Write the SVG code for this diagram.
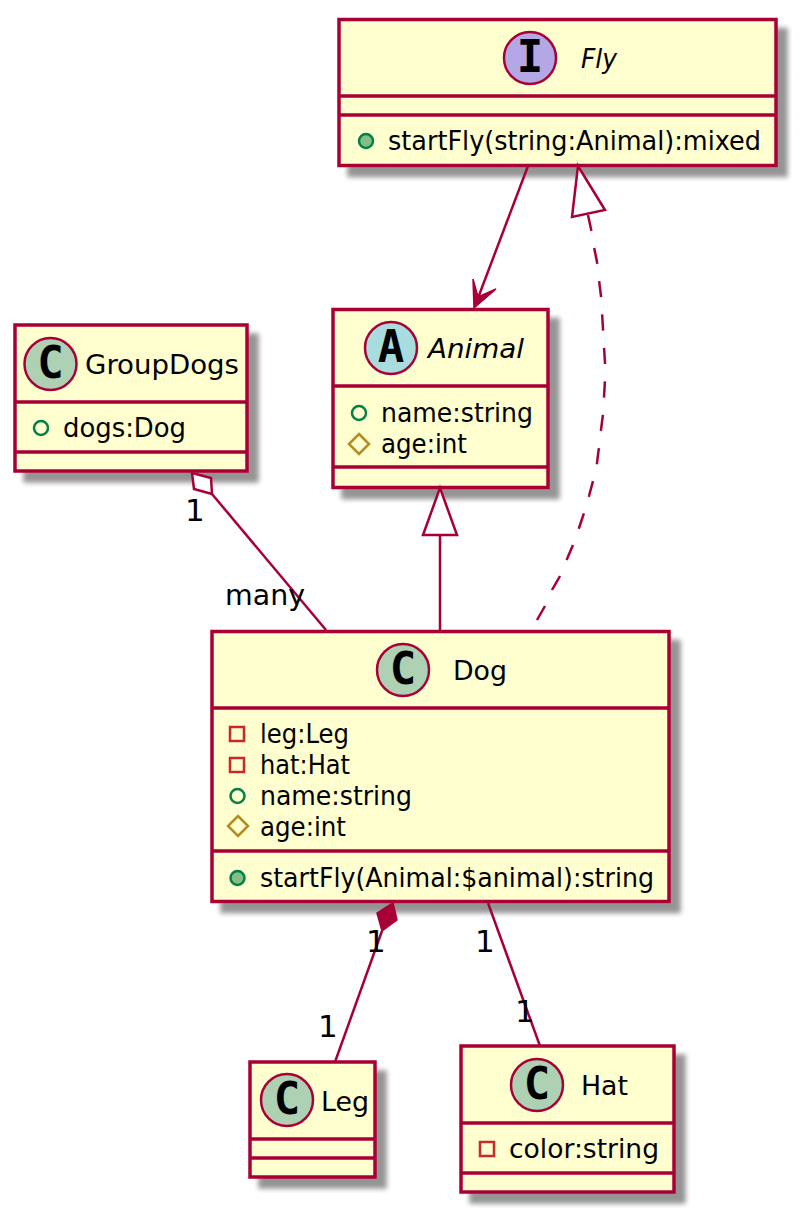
<svg xmlns="http://www.w3.org/2000/svg" width="800" height="1216" viewBox="0 0 800 1216">
<style>
.box{fill:#FEFECE;stroke:#A80036;stroke-width:3.5;filter:url(#sh)}
.div{stroke:#A80036;stroke-width:3.5;fill:none}
.line{stroke:#A80036;stroke-width:2.5;fill:none}
.spot{stroke:#A80036;stroke-width:2.5}
text{font-family:"DejaVu Sans",Verdana,sans-serif;fill:#000}
.t{font-size:27px}
.m{font-size:26px}
.l{font-size:29px}
.n{font-size:31px}
.g{font-size:44px;font-weight:bold;text-anchor:middle;font-family:"DejaVu Sans Mono","DejaVu Sans",monospace}
.pub{fill:none;stroke:#038048;stroke-width:2.5}
.pubf{fill:#84BE84;stroke:#038048;stroke-width:2.5}
.pri{fill:none;stroke:#C82930;stroke-width:2.5}
.pro{fill:none;stroke:#B38D22;stroke-width:2.5}
</style>
<defs>
<filter id="sh" x="-10%" y="-10%" width="125%" height="125%">
<feGaussianBlur in="SourceAlpha" stdDeviation="2.500"/>
<feOffset dx="10" dy="10"/>
<feComponentTransfer><feFuncA type="linear" slope="0.42"/></feComponentTransfer>
<feMerge><feMergeNode/><feMergeNode in="SourceGraphic"/></feMerge>
</filter>
</defs>
<g id="node-fly">
<rect class="box" x="339" y="19.500" width="437" height="146"/>
<path class="div" d="M339 96H776M339 115H776"/>
<circle class="spot" cx="530" cy="58" r="26" fill="#B4A7E5"/>
<text class="g" x="530" y="72">I</text>
<text class="t" x="581" y="68" font-style="italic" textLength="36" lengthAdjust="spacingAndGlyphs">Fly</text>
<circle class="pubf" cx="366" cy="141" r="7"/>
<text class="m" x="388" y="150" textLength="373" lengthAdjust="spacingAndGlyphs">startFly(string:Animal):mixed</text>
</g>
<g id="node-animal">
<rect class="box" x="333" y="309.500" width="215" height="178"/>
<path class="div" d="M333 386H548M333 467H548"/>
<circle class="spot" cx="391" cy="348" r="26" fill="#A9DCDF"/>
<text class="g" x="391" y="362">A</text>
<text class="t" x="428" y="358" font-style="italic" textLength="96" lengthAdjust="spacingAndGlyphs">Animal</text>
<circle class="pub" cx="359" cy="413" r="7"/>
<text class="m" x="381" y="422" textLength="152" lengthAdjust="spacingAndGlyphs">name:string</text>
<path class="pro" d="M359 434L369 444L359 454L349 444Z"/>
<text class="m" x="381" y="453" textLength="86" lengthAdjust="spacingAndGlyphs">age:int</text>
</g>
<g id="node-groupdogs">
<rect class="box" x="15" y="325" width="232" height="146"/>
<path class="div" d="M15 402H247M15 452H247"/>
<circle class="spot" cx="50.500" cy="364" r="26" fill="#ADD1B2"/>
<text class="g" x="50.500" y="378">C</text>
<text class="t" x="85" y="374" textLength="154" lengthAdjust="spacingAndGlyphs">GroupDogs</text>
<circle class="pub" cx="41" cy="428" r="7"/>
<text class="m" x="63" y="437" textLength="123" lengthAdjust="spacingAndGlyphs">dogs:Dog</text>
</g>
<g id="node-dog">
<rect class="box" x="212" y="631.500" width="457" height="270"/>
<path class="div" d="M212 708H669M212 851H669"/>
<circle class="spot" cx="403" cy="670" r="26" fill="#ADD1B2"/>
<text class="g" x="403" y="684">C</text>
<text class="t" x="453" y="680" textLength="54" lengthAdjust="spacingAndGlyphs">Dog</text>
<rect class="pri" x="230" y="727" width="14" height="14"/>
<text class="m" x="260" y="743" textLength="89" lengthAdjust="spacingAndGlyphs">leg:Leg</text>
<rect class="pri" x="230" y="758" width="14" height="14"/>
<text class="m" x="260" y="774" textLength="90" lengthAdjust="spacingAndGlyphs">hat:Hat</text>
<circle class="pub" cx="237.500" cy="796" r="7"/>
<text class="m" x="260" y="805" textLength="152" lengthAdjust="spacingAndGlyphs">name:string</text>
<path class="pro" d="M238 816L248 826L238 836L228 826Z"/>
<text class="m" x="260" y="836" textLength="86" lengthAdjust="spacingAndGlyphs">age:int</text>
<circle class="pubf" cx="237.500" cy="878" r="7"/>
<text class="m" x="260" y="887" textLength="394" lengthAdjust="spacingAndGlyphs">startFly(Animal:$animal):string</text>
</g>
<g id="node-leg">
<rect class="box" x="250" y="1062" width="125" height="115"/>
<path class="div" d="M250 1139H375M250 1158H375"/>
<circle class="spot" cx="287" cy="1100" r="26" fill="#ADD1B2"/>
<text class="g" x="287" y="1114">C</text>
<text class="t" x="321" y="1111" textLength="48" lengthAdjust="spacingAndGlyphs">Leg</text>
</g>
<g id="node-hat">
<rect class="box" x="461" y="1046" width="213" height="146"/>
<path class="div" d="M461 1123H674M461 1173H674"/>
<circle class="spot" cx="537" cy="1085" r="26" fill="#ADD1B2"/>
<text class="g" x="537" y="1099">C</text>
<text class="t" x="581" y="1095" textLength="47" lengthAdjust="spacingAndGlyphs">Hat</text>
<rect class="pri" x="480" y="1142" width="14" height="14"/>
<text class="m" x="509" y="1158" textLength="150" lengthAdjust="spacingAndGlyphs">color:string</text>
</g>
<g id="connectors">
<path class="line" d="M528 166L478 298"/>
<path d="M474 308L473 279L478 297L496 289Z" fill="#A80036" stroke="#A80036" stroke-width="1.500"/>
<path class="line" pathLength="412" stroke-dasharray="16,17" d="M588 215L591 229L594 247L597 262L599 280L601 296L603 329L604 347L605 363L605 380L604 397L603 414L601 430L599 447L597 463L593 481L589 496L584 513L579 528L573 545L567 559L560 576L552 590L545 606L537 620"/>
<path d="M578 166L572 217L605 210Z" fill="#fff" stroke="#A80036" stroke-width="2.500"/>
<path class="line" d="M440 535V630"/>
<path d="M440 488L423 535H457Z" fill="#fff" stroke="#A80036" stroke-width="2.500"/>
<path class="line" d="M212 494L326 630"/>
<path d="M192 473L194 489L212 494L211 478Z" fill="#fff" stroke="#A80036" stroke-width="2.500"/>
<path class="line" d="M382 931L335 1062"/>
<path d="M393 903L377 913L382 931L397 920Z" fill="#A80036" stroke="#A80036" stroke-width="1.500"/>
<path class="line" d="M488 903L540 1046"/>
<text class="n" x="185" y="521">1</text>
<text class="l" x="225" y="605" textLength="80" lengthAdjust="spacingAndGlyphs">many</text>
<text class="n" x="366" y="952">1</text>
<text class="n" x="318" y="1037">1</text>
<text class="n" x="475" y="952">1</text>
<text class="n" x="515" y="1022">1</text>
</g>
</svg>
